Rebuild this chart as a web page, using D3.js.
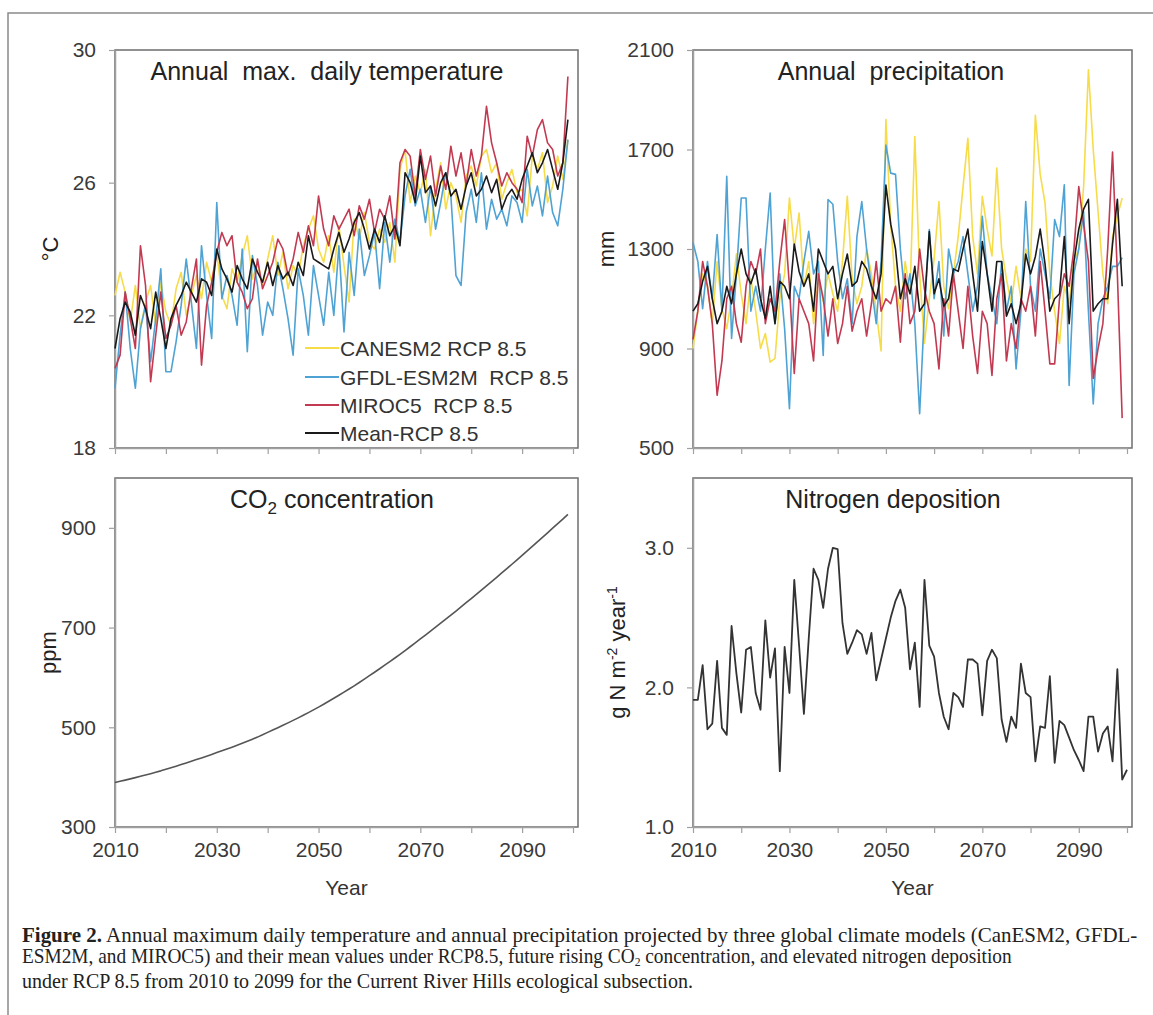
<!DOCTYPE html>
<html><head><meta charset="utf-8">
<script src="https://cdn.jsdelivr.net/npm/d3@7"></script>
<style>
body{margin:0;background:#fff;}
svg{display:block;font-family:"Liberation Sans",Arial,sans-serif;}
</style>
</head><body>
<svg id="c" width="1153" height="1015"></svg>
<script>
// ---------------- DATA ----------------
const years = [2010,2011,2012,2013,2014,2015,2016,2017,2018,2019,
2020,2021,2022,2023,2024,2025,2026,2027,2028,2029,
2030,2031,2032,2033,2034,2035,2036,2037,2038,2039,
2040,2041,2042,2043,2044,2045,2046,2047,2048,2049,
2050,2051,2052,2053,2054,2055,2056,2057,2058,2059,
2060,2061,2062,2063,2064,2065,2066,2067,2068,2069,
2070,2071,2072,2073,2074,2075,2076,2077,2078,2079,
2080,2081,2082,2083,2084,2085,2086,2087,2088,2089,
2090,2091,2092,2093,2094,2095,2096,2097,2098,2099];
const nYears = years.concat([2100]);

const xTickYears = [2010,2020,2030,2040,2050,2060,2070,2080,2090,2100];
const xLabelYears = [2010,2030,2050,2070,2090];

const seriesNames = ["CANESM2 RCP 8.5","GFDL-ESM2M  RCP 8.5","MIROC5  RCP 8.5","Mean-RCP 8.5"];

const tempCanESM2 = [22.6,23.3,22.7,21.8,22.9,21.6,22.4,22.9,21.7,23.0,
22.1,21.7,22.8,23.3,22.0,22.6,23.2,22.5,23.6,23.0,
23.9,22.6,22.2,23.4,23.0,23.8,24.4,23.1,23.6,22.9,
23.7,24.4,23.2,23.9,22.8,23.5,23.2,24.1,24.6,25.0,
24.0,23.6,24.4,23.3,24.7,23.5,22.4,24.9,24.3,25.1,
24.2,24.0,24.6,24.2,24.8,23.6,26.4,27.0,25.4,26.2,
25.7,26.4,24.4,25.8,26.6,25.2,26.0,25.6,24.8,26.2,
26.5,25.9,26.8,27.0,26.3,26.6,25.5,26.0,26.4,25.7,
25.8,25.0,26.8,26.4,26.9,25.4,25.9,26.8,26.1,27.3];
const tempGFDL = [19.8,21.4,22.7,21.0,19.8,21.6,22.3,20.6,21.9,23.4,
20.3,20.3,21.2,22.3,23.7,22.4,21.0,24.1,22.6,21.3,
25.4,22.5,23.2,22.6,21.7,24.0,20.9,23.8,22.9,21.4,
22.4,22.0,23.6,22.8,21.9,20.8,23.4,22.6,21.4,23.5,
22.6,21.7,23.3,22.0,24.1,21.5,23.9,22.6,24.6,23.2,
23.8,24.5,22.8,24.8,23.6,24.9,24.2,25.6,26.4,25.3,
25.8,24.8,25.9,24.6,25.4,26.3,25.6,23.2,22.9,25.1,
25.8,24.8,26.3,24.6,25.5,24.9,25.2,24.7,25.6,25.4,
24.8,26.4,25.3,25.9,25.0,26.2,25.1,24.7,25.8,27.3];
const tempMIROC5 = [20.4,20.8,22.7,21.9,21.0,24.1,22.9,20.0,21.4,22.7,
21.3,21.7,22.3,21.4,21.8,22.8,23.7,20.5,22.3,23.0,
23.9,24.5,24.1,24.4,23.0,22.7,22.2,22.5,23.7,22.8,
23.2,23.6,24.3,24.0,23.2,23.7,24.5,23.9,24.7,24.1,
25.6,24.6,24.1,25.0,24.6,24.9,25.2,24.4,25.3,24.9,
25.5,24.5,25.2,24.9,25.6,24.3,26.6,27.0,26.8,25.6,
27.0,26.1,26.8,25.6,26.5,25.8,27.1,26.2,26.9,25.9,
27.0,26.2,26.8,28.3,27.2,26.6,25.9,26.3,26.0,25.8,
25.4,27.4,26.8,27.6,27.9,27.2,27.0,26.2,26.6,29.2];
const tempMean = [21.0,21.9,22.4,22.1,21.4,22.6,22.2,21.6,22.7,21.9,
21.0,21.9,22.3,22.6,23.0,22.7,22.4,23.1,23.0,22.6,
24.0,23.4,23.1,22.7,23.5,23.1,22.8,23.7,23.3,23.0,
23.6,22.9,23.5,23.1,23.3,22.9,23.6,23.2,24.4,23.7,
23.6,23.5,23.4,24.0,24.5,23.9,24.3,24.8,25.1,24.6,
24.0,24.6,24.2,25.0,24.4,24.7,24.1,26.3,26.0,25.4,
26.8,25.7,25.9,25.3,26.0,26.3,25.6,25.8,25.2,25.9,
26.3,25.6,25.8,26.2,25.7,26.1,25.2,25.6,25.8,25.5,
26.1,26.5,26.9,26.3,26.6,27.0,26.4,25.8,26.6,27.9];

const precCanESM2 = [900,1050,1200,1150,1000,1250,1060,980,1100,1280,
1120,1000,1180,1050,900,960,845,860,1100,1200,
1505,1300,1445,1150,1250,1000,1180,1090,1200,1120,
1050,1250,1512,1180,1080,1150,1300,1200,1050,890,
1820,1400,1150,1050,1250,1120,1752,1200,920,1100,
1260,1491,1150,1060,1200,1350,1550,1745,1350,1200,
1512,1380,1272,1625,1300,1180,1080,1230,1100,1300,
1250,1837,1600,1485,1200,1050,920,1150,1080,1250,
1300,1550,2020,1700,1450,1200,1080,1350,1432,1505];
const precGFDL = [1325,1250,1060,1250,1100,1358,1050,1592,940,1200,
1505,1505,1050,1150,1050,1300,1525,1000,1200,980,
658,1150,1100,1250,1371,1200,1250,872,1499,1480,
1250,1100,1180,1000,1351,1491,1300,1150,1000,1250,
1718,1605,1600,1300,1100,1200,1000,638,1050,1378,
1100,1250,950,1300,1200,1250,1350,1200,1050,1150,
1431,1200,1100,1000,1250,1050,1150,818,1050,1491,
1150,1050,1300,1200,1100,1418,1350,1558,751,1200,
1300,1450,1050,677,1000,1100,1150,1230,1230,1265];
const precMIROC5 = [937,1050,1250,1150,1000,712,850,1100,1150,1000,
925,1150,1250,1200,1300,1000,1100,1050,1250,1418,
1150,800,1100,1050,1000,850,1200,1100,950,1100,
920,1000,1150,970,1050,1100,950,1080,1250,1050,
1100,1080,1150,925,1200,1000,1050,1300,1138,1050,
1000,818,1100,950,1200,1050,900,1150,950,800,
1050,1000,792,1100,1200,850,1000,900,1100,1050,
1150,950,1250,1050,838,838,1100,1200,1150,1300,
1551,1400,1250,780,900,1000,1300,1690,1200,620];
const precMean = [1050,1080,1170,1230,1100,1000,1050,1150,1080,1200,
1300,1200,1160,1220,1100,1020,1150,1000,1170,1150,
1100,1320,1210,1150,1200,1050,1300,1250,1200,1230,
1100,1200,1280,1150,1170,1250,1220,1150,1100,1200,
1557,1400,1300,1100,1180,1120,1230,1050,1080,1370,
1120,1180,1070,1100,1220,1210,1300,1380,1200,1050,
1330,1200,1050,1250,1250,1030,1080,1000,1080,1280,
1200,1270,1380,1240,1050,1100,1120,1350,1000,1250,
1380,1460,1500,1050,1080,1100,1100,1320,1500,1150];

const co2 = [389.3,391.6,394.0,396.5,399.0,401.6,404.2,406.9,409.7,412.6,
415.8,418.9,422.0,425.2,428.5,431.8,435.2,438.6,442.0,445.6,
449.2,452.8,456.5,460.2,464.0,467.9,471.9,476.0,480.3,484.9,
489.8,494.5,499.2,504.0,508.9,513.9,518.9,524.1,529.4,534.9,
540.5,546.3,552.2,558.2,564.3,570.5,576.8,583.2,589.8,596.6,
603.5,610.4,617.4,624.5,631.7,639.0,646.4,653.9,661.5,669.2,
677.1,684.9,692.8,700.8,708.8,716.9,725.0,733.2,741.5,749.8,
758.2,766.6,775.1,783.6,792.2,800.8,809.5,818.2,827.0,835.9,
844.8,853.8,862.8,871.9,881.0,890.1,899.3,908.5,917.7,927.0];

const nDep = [1.91,1.91,2.16,1.70,1.74,2.19,1.71,1.66,2.44,2.10,
1.82,2.27,2.29,1.96,1.84,2.48,2.07,2.28,1.40,2.29,
1.96,2.77,2.30,1.81,2.35,2.85,2.77,2.57,2.85,3.00,
2.99,2.46,2.24,2.32,2.41,2.38,2.24,2.39,2.05,2.20,
2.35,2.50,2.62,2.70,2.57,2.13,2.32,1.86,2.77,2.30,
2.22,1.96,1.79,1.70,1.96,1.93,1.86,2.20,2.20,2.17,
1.80,2.19,2.27,2.21,1.77,1.61,1.79,1.71,2.17,1.96,
1.93,1.47,1.72,1.71,2.08,1.46,1.76,1.73,1.64,1.55,
1.48,1.40,1.79,1.79,1.54,1.67,1.72,1.47,2.13,1.34,1.41];

const tempTicks = [18,22,26,30];
const precTicks = [500,900,1300,1700,2100];
const co2Ticks = [300,500,700,900];
const nTicks = [1.0,2.0,3.0];

// ---------------- DRAW ----------------
const svg = d3.select('#c');
const colors = ['#F7DC4A','#4FA3D4','#C23A52','#1a1a1a'];

svg.append('path').attr('d','M8,1015 V13 H1153')
  .attr('fill','none').attr('stroke','#8a8a8a').attr('stroke-width',1.5);

function panel(o){
  const x = d3.scaleLinear().domain([2010,2100]).range([o.x0,o.x1]);
  const y = d3.scaleLinear().domain(o.yDomain).range([o.y1,o.y0]);
  const g = svg.append('g');
  g.append('rect').attr('x',o.x0).attr('y',o.y0)
    .attr('width',o.x1+5-o.x0).attr('height',o.y1-o.y0)
    .attr('fill','none').attr('stroke','#6e6e6e').attr('stroke-width',1.5);
  const ya = g.append('g').attr('transform',`translate(${o.x0},0)`)
    .call(d3.axisLeft(y).tickValues(o.yTicks).tickSize(6).tickSizeOuter(0)
      .tickPadding(13).tickFormat(o.yFmt));
  const xa = g.append('g').attr('transform',`translate(0,${o.y1})`)
    .call(d3.axisBottom(x).tickValues(xTickYears).tickSize(6).tickSizeOuter(0)
      .tickPadding(9).tickFormat(d => o.xLabels && xLabelYears.includes(d) ? d : ''));
  [ya,xa].forEach(a=>{
    a.select('.domain').attr('stroke','#a0a0a0').attr('stroke-width',1.5);
    a.selectAll('.tick line').attr('stroke','#a0a0a0').attr('stroke-width',1.2);
    a.selectAll('.tick text').attr('fill','#3a3a3a')
      .style('font-size','21px').style('font-family','"Liberation Sans",Arial,sans-serif');
  });
  o.series.forEach(s=>{
    g.append('path').datum(s.values)
      .attr('fill','none').attr('stroke',s.color).attr('stroke-width',s.width||1.6)
      .attr('stroke-linejoin','round')
      .attr('d', d3.line().x((d,i)=>x(s.years[i])).y(d=>y(d)));
  });
  const t = g.append('text').attr('x',o.titleX).attr('y',o.y0+30)
    .attr('text-anchor','middle').attr('fill','#222').style('font-size','25px');
  o.title(t);
  if(o.xLabels){
    g.append('text').attr('x',(o.x0+o.x1+5)/2).attr('y',o.y1+68)
      .attr('text-anchor','middle').attr('fill','#333').style('font-size','21px').text('Year');
  }
  const yt = g.append('text').attr('transform',`translate(${o.yLabelX},${(o.y0+o.y1)/2}) rotate(-90)`)
    .attr('text-anchor','middle').attr('fill','#222').style('font-size','22px');
  o.yLabel(yt);
  return {x,y,g};
}

const L = {x0:115, x1:573};
const R = {x0:693, x1:1127};
const T = {y0:50, y1:448};
const B = {y0:478, y1:827};

const tl = panel({x0:L.x0,x1:L.x1,y0:T.y0,y1:T.y1,yDomain:[18,30],yTicks:tempTicks,
  yFmt:d3.format('d'),xLabels:false,titleX:327,yLabelX:58,
  series:[
    {values:tempCanESM2,years:years,color:colors[0]},
    {values:tempGFDL,years:years,color:colors[1]},
    {values:tempMIROC5,years:years,color:colors[2]},
    {values:tempMean,years:years,color:colors[3]}],
  title:t=>t.text('Annual  max.  daily temperature').style('white-space','pre'),
  yLabel:t=>t.text('°C')});

const legY = [348,377,405,433];
seriesNames.forEach((n,i)=>{
  tl.g.append('line').attr('x1',305).attr('x2',339).attr('y1',legY[i]).attr('y2',legY[i])
    .attr('stroke',colors[i]).attr('stroke-width',2);
  tl.g.append('text').attr('x',340).attr('y',legY[i]+7.5).attr('fill','#333')
    .style('font-size','21px').style('white-space','pre').text(n);
});

panel({x0:R.x0,x1:R.x1,y0:T.y0,y1:T.y1,yDomain:[500,2100],yTicks:precTicks,
  yFmt:d3.format('d'),xLabels:false,titleX:891,yLabelX:614,
  series:[
    {values:precCanESM2,years:years,color:colors[0]},
    {values:precGFDL,years:years,color:colors[1]},
    {values:precMIROC5,years:years,color:colors[2]},
    {values:precMean,years:years,color:colors[3]}],
  title:t=>t.text('Annual  precipitation').style('white-space','pre'),
  yLabel:t=>t.text('mm')});

panel({x0:L.x0,x1:L.x1,y0:B.y0,y1:B.y1,yDomain:[300,1000],yTicks:co2Ticks,
  yFmt:d3.format('d'),xLabels:true,titleX:332,yLabelX:56,
  series:[{values:co2,years:years,color:'#555',width:1.6}],
  title:t=>{t.append('tspan').text('CO');
    t.append('tspan').attr('dy',6).style('font-size','17px').text('2');
    t.append('tspan').attr('dy',-6).text(' concentration');},
  yLabel:t=>t.text('ppm')});

panel({x0:R.x0,x1:R.x1,y0:B.y0,y1:B.y1,yDomain:[1.0,3.5],yTicks:nTicks,
  yFmt:d3.format('.1f'),xLabels:true,titleX:893,yLabelX:625,
  series:[{values:nDep,years:nYears,color:'#333',width:1.8}],
  title:t=>t.text('Nitrogen deposition'),
  yLabel:t=>{t.append('tspan').text('g N m');
    t.append('tspan').attr('dy',-8).style('font-size','14px').text('-2');
    t.append('tspan').attr('dy',8).text(' year');
    t.append('tspan').attr('dy',-8).style('font-size','14px').text('-1');}});

// caption: natural layout, then horizontally scaled to the reference widths
const cap = svg.append('g').style('font-family','"Liberation Serif","Times New Roman",serif')
  .style('font-size','20px').attr('fill','#222');
function capLine(y, target, build){
  const g = cap.append('g');
  const t = g.append('text').attr('x',0).attr('y',0);
  build(t);
  const w = t.node().getComputedTextLength();
  g.attr('transform',`translate(22,${y}) scale(${target/w},1)`);
}
capLine(942, 1116, t=>{
  t.append('tspan').style('font-weight','bold').text('Figure 2.');
  t.append('tspan').text(' Annual maximum daily temperature and annual precipitation projected by three global climate models (CanESM2, GFDL-');
});
capLine(963, 990, t=>{
  t.append('tspan').text('ESM2M, and MIROC5) and their mean values under RCP8.5, future rising CO');
  t.append('tspan').attr('dy',3).style('font-size','12px').text('2');
  t.append('tspan').attr('dy',-3).text(' concentration, and elevated nitrogen deposition');
});
capLine(988, 671, t=>{
  t.text('under RCP 8.5 from 2010 to 2099 for the Current River Hills ecological subsection.');
});
</script>
</body></html>
